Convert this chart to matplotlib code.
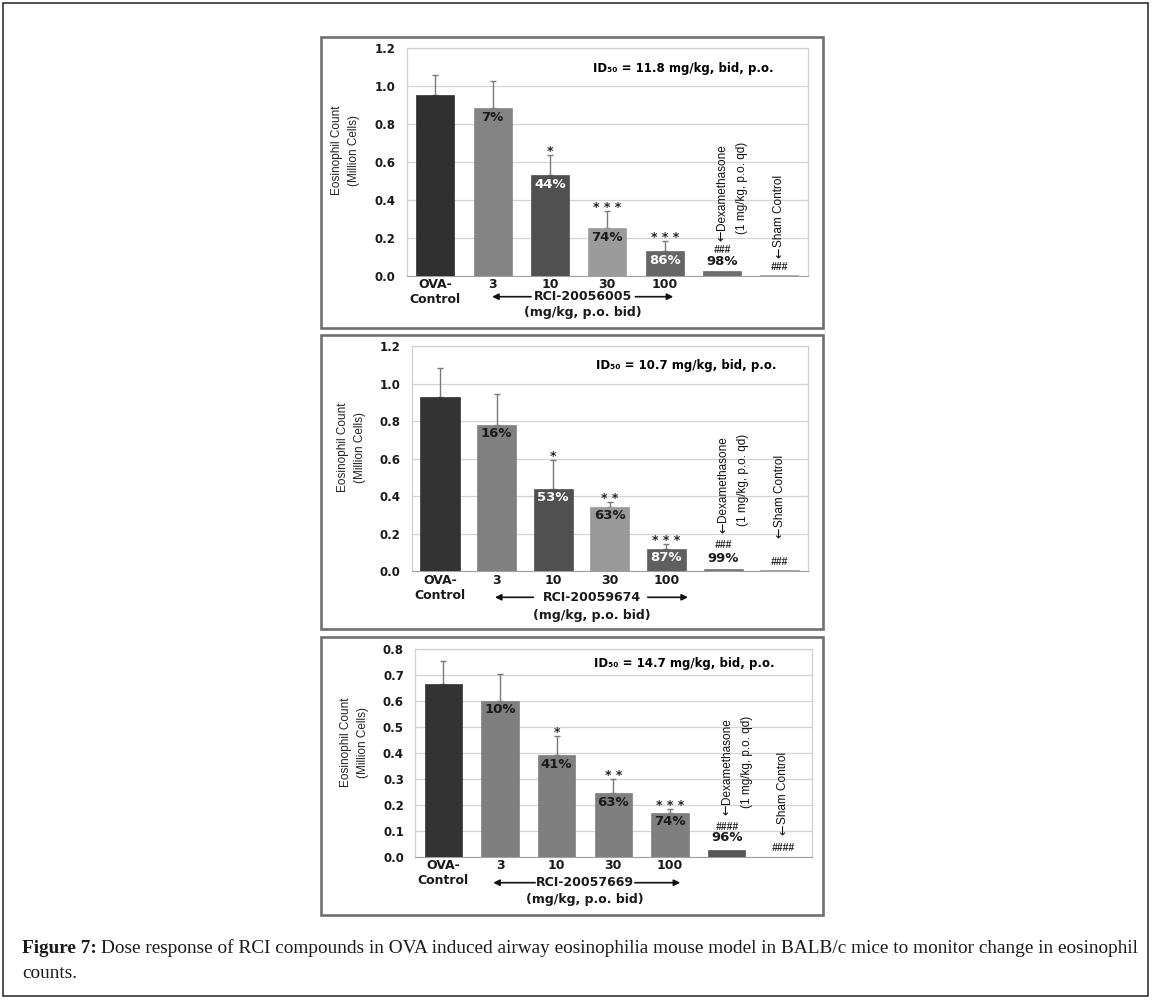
import numpy as np
import matplotlib
matplotlib.use("Agg")
import matplotlib.pyplot as plt
from matplotlib.patches import Rectangle
from matplotlib import transforms

# --- data ---
groups = ["OVA-\nControl", "3", "10", "30", "100", "", ""]

p1_mean = [0.95, 0.88, 0.53, 0.25, 0.13, 0.025, 0.005]
p1_err = [0.105, 0.145, 0.105, 0.09, 0.055, 0.005, 0.002]
p1_pct = ["", "7%", "44%", "74%", "86%", "98%", ""]
p1_sig = ["", "", "*", "* * *", "* * *", "###", "###"]

p2_mean = [0.93, 0.78, 0.44, 0.345, 0.12, 0.012, 0.005]
p2_err = [0.155, 0.165, 0.155, 0.025, 0.025, 0.003, 0.001]
p2_pct = ["", "16%", "53%", "63%", "87%", "99%", ""]
p2_sig = ["", "", "*", "* *", "* * *", "###", "###"]

p3_mean = [0.665, 0.60, 0.39, 0.245, 0.17, 0.025, 0.0]
p3_err = [0.09, 0.105, 0.075, 0.055, 0.015, 0.005, 0.0]
p3_pct = ["", "10%", "41%", "63%", "74%", "96%", ""]
p3_sig = ["", "", "*", "* *", "* * *", "####", "####"]

compounds = ["RCI-20056005", "RCI-20059674", "RCI-20057669"]
id50 = ["11.8", "10.7", "14.7"]

caption_head = "Figure 7:"
caption_body = ("Dose response of RCI compounds in OVA induced airway eosinophilia mouse model "
                "in BALB/c mice to monitor change in eosinophil")
caption_tail = "counts."

W, H = 1153, 1002
fig = plt.figure(figsize=(W / 100, H / 100), dpi=100)


def rect(x0, y0, x1, y1):
    # pixel box (top-left origin) -> figure fraction
    return [x0 / W, 1 - y1 / H, (x1 - x0) / W, (y1 - y0) / H]


# outer frame and panel frames
fig.patches.append(Rectangle((3 / W, 1 - 996 / H), 1145 / W, 993 / H, transform=fig.transFigure,
                             fill=False, edgecolor='#222222', linewidth=1.1))
for y0, y1 in [(37, 328), (335, 629), (637, 915)]:
    r = rect(321, y0, 823, y1)
    fig.patches.append(Rectangle((r[0], r[1]), r[2], r[3], transform=fig.transFigure,
                                 fill=False, edgecolor='#707070', linewidth=1.9))

panels = [
    dict(mean=p1_mean, err=p1_err, pct=p1_pct, sig=p1_sig, box=(406.7, 47.7, 808, 275.7),
         ymax=1.2, step=0.2, width=0.66,
         colors=['#2f2f2f', '#848484', '#505050', '#9b9b9b', '#666666', '#6e6e6e', '#a5a5a5'],
         white=[2, 4], arrows=(0.99, 1.67, 2.57, 3.49, 4.15), drop=(21, 37),
         id_xy=(0.689, 0.907), dex_up=35, sham_up=18, dex_lab=(14, 26)),
    dict(mean=p2_mean, err=p2_err, pct=p2_pct, sig=p2_sig, box=(411.7, 346, 808, 571.3),
         ymax=1.2, step=0.2, width=0.69,
         colors=['#333333', '#808080', '#505050', '#999999', '#5f5f5f', '#777777', '#9a9a9a'],
         white=[2, 4], arrows=(0.97, 1.65, 2.69, 3.67, 4.38), drop=(26, 44),
         id_xy=(0.692, 0.914), dex_up=38, sham_up=33, dex_lab=(13, 26)),
    dict(mean=p3_mean, err=p3_err, pct=p3_pct, sig=p3_sig, box=(415, 649, 811.7, 856.7),
         ymax=0.8, step=0.1, width=0.66,
         colors=['#333333', '#7f7f7f', '#7f7f7f', '#7f7f7f', '#7f7f7f', '#555555', '#7f7f7f'],
         white=[], arrows=(0.88, 1.62, 2.5, 3.38, 4.18), drop=(26, 43),
         id_xy=(0.68, 0.931), dex_up=42, sham_up=22, dex_lab=(19, 30)),
]

bold = dict(family='DejaVu Sans', fontweight='bold')
side = dict(fontsize=8.5, family='Liberation Sans', color='#111111', rotation=90,
            textcoords='offset pixels')
arrow_font = dict(fontsize=9, family='DejaVu Sans', color='#111111', rotation=90,
                  textcoords='offset pixels')

for k, p in enumerate(panels):
    ax = fig.add_axes(rect(*p['box']))
    x = np.arange(len(groups))
    mean = np.array(p['mean'])
    err = np.array(p['err'])
    ax.bar(x, mean, width=p['width'], color=p['colors'], edgecolor=p['colors'], linewidth=0.5, zorder=3)
    ax.errorbar(x[:5], mean[:5], yerr=[np.zeros(5), err[:5]], fmt='none', ecolor='#7a7a7a',
                elinewidth=1.0, capsize=2.5, capthick=1.0, zorder=2)

    ax.set_xlim(-0.5, 6.5)
    ax.set_ylim(0, p['ymax'])
    ticks = np.arange(0, p['ymax'] + 1e-9, p['step'])
    ax.set_yticks(ticks)
    ax.set_yticklabels(["%.1f" % v for v in ticks], fontsize=8.5, **bold)
    ax.set_xticks(x)
    ax.set_xticklabels(groups, fontsize=9, linespacing=1.15, **bold)
    ax.tick_params(axis='both', length=0, colors='#1a1a1a')
    ax.tick_params(axis='y', pad=8)
    ax.tick_params(axis='x', pad=2)
    ax.grid(axis='y', color='#d4d4d4', linewidth=0.9, zorder=0)
    ax.set_axisbelow(True)
    for s in ['left', 'right', 'top']:
        ax.spines[s].set_color('#cfcfcf')
        ax.spines[s].set_linewidth(0.9)
    ax.spines['bottom'].set_color('#a0a0a0')

    ax.text(-0.152, 0.55, "Eosinophil Count\n(Million Cells)", transform=ax.transAxes,
            rotation=90, ha='center', va='center', fontsize=8.5, family='Liberation Sans',
            color='#222222', linespacing=1.55)
    ax.text(p['id_xy'][0], p['id_xy'][1], "ID\u2085\u2080 = %s mg/kg, bid, p.o." % id50[k],
            transform=ax.transAxes, ha='center', va='center', fontsize=8.5, **bold)

    # percent inhibition labels inside bars, significance above error bars
    for i in range(1, 5):
        ax.annotate(p['pct'][i], xy=(i, mean[i]), xytext=(0, -9), textcoords='offset pixels',
                    ha='center', va='center', fontsize=9.5,
                    color='white' if i in p['white'] else '#1a1a1a', **bold)
        if p['sig'][i]:
            ax.annotate(p['sig'][i], xy=(i, mean[i] + err[i]), xytext=(0, -3),
                        textcoords='offset pixels', ha='center', va='bottom', fontsize=9,
                        color='#222222', **bold)

    # dexamethasone / sham annotations
    ax.annotate(p['pct'][5], xy=(5, 0), xytext=(0, p['dex_lab'][0]), textcoords='offset pixels',
                ha='center', va='center', fontsize=9.5, color='#1a1a1a', **bold)
    ax.annotate(p['sig'][5], xy=(5, 0), xytext=(0, p['dex_lab'][1]), textcoords='offset pixels',
                ha='center', va='center', fontsize=7.5, color='#222222',
                family='Liberation Sans', fontweight='bold', style='italic')
    ax.annotate(p['sig'][6], xy=(6, 0), xytext=(0, 9), textcoords='offset pixels',
                ha='center', va='center', fontsize=7.5, color='#222222',
                family='Liberation Sans', fontweight='bold', style='italic')

    up = p['dex_up']
    ax.annotate("\u2190", xy=(5, 0), xytext=(0, up), ha='center', va='bottom', **arrow_font)
    ax.annotate("Dexamethasone", xy=(5, 0), xytext=(0, up + 11), ha='center', va='bottom', **side)
    ax.annotate("(1 mg/kg, p.o. qd)", xy=(5, 0), xytext=(20, up + 7), ha='center', va='bottom', **side)
    up = p['sham_up']
    ax.annotate("\u2190", xy=(6, 0), xytext=(0, up), ha='center', va='bottom', **arrow_font)
    ax.annotate("Sham Control", xy=(6, 0), xytext=(0, up + 11), ha='center', va='bottom', **side)

    # compound label with arrows under the dose ticks
    base = transforms.blended_transform_factory(ax.transData, ax.transAxes)
    tr1 = transforms.offset_copy(base, fig=fig, y=-p['drop'][0], units='dots')
    tr2 = transforms.offset_copy(base, fig=fig, y=-p['drop'][1], units='dots')
    a0, a1, xc, a2, a3 = p['arrows']
    ax.text(xc, 0, compounds[k], transform=tr1, ha='center', va='center', fontsize=9,
            color='#1a1a1a', **bold)
    ax.text(xc, 0, "(mg/kg, p.o. bid)", transform=tr2, ha='center', va='center', fontsize=9,
            color='#1a1a1a', **bold)
    for t, h in [(a1, a0), (a2, a3)]:
        ax.annotate('', xy=(h, 0), xycoords=tr1, xytext=(t, 0), textcoords=tr1,
                    arrowprops=dict(arrowstyle='-|>', color='#111111', lw=1.2,
                                    mutation_scale=9, shrinkA=0, shrinkB=0),
                    annotation_clip=False)

# caption
cap = dict(fontsize=13.85, family='Liberation Serif', color='#1a1a1a')
t1 = fig.text(22 / W, 1 - 953 / H, caption_head, ha='left', va='baseline', fontweight='bold', **cap)
fig.text(22 / W, 1 - 978 / H, caption_tail, ha='left', va='baseline', **cap)
renderer = fig.canvas.get_renderer()
bb = t1.get_window_extent(renderer)
fig.text((bb.x1 + 4) / W, 1 - 953 / H, caption_body, ha='left', va='baseline', **cap)

fig.savefig("out.png", dpi=100)
